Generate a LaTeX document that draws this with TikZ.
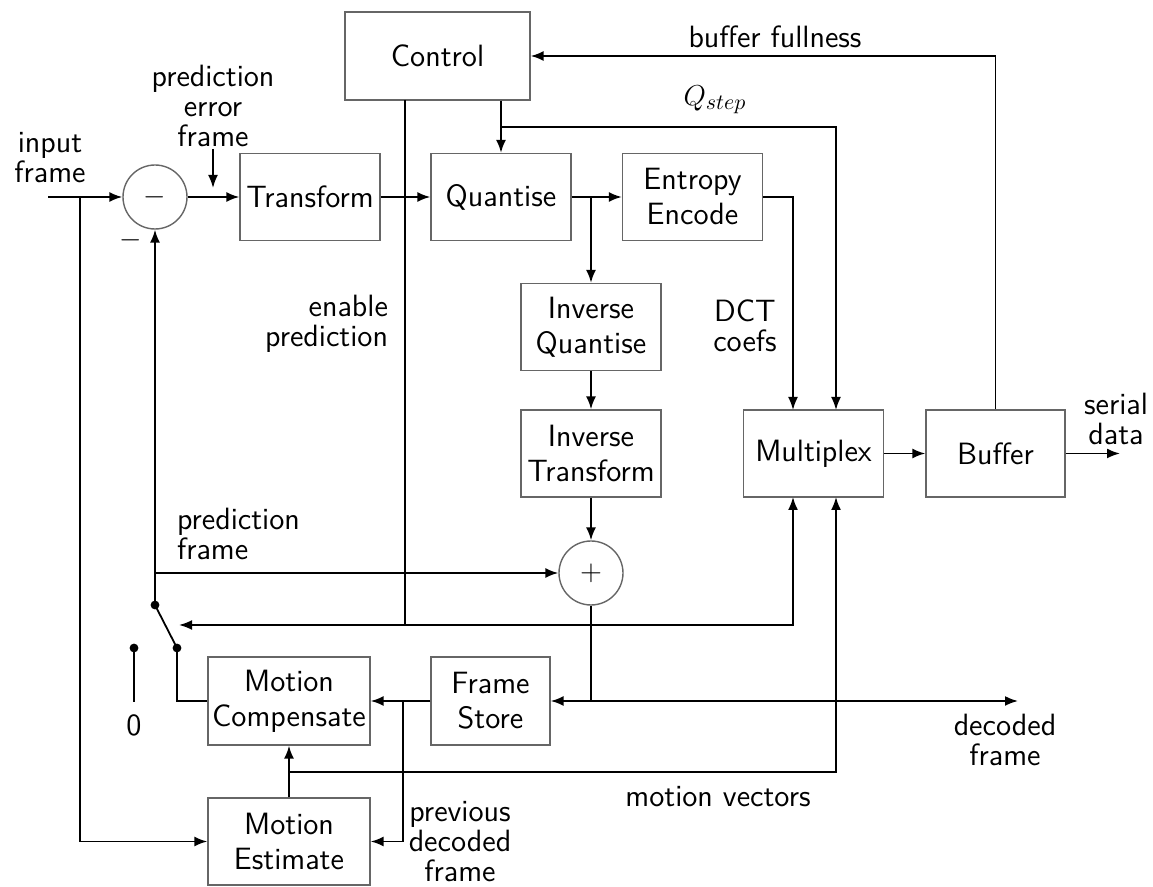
\documentclass[tikz,border=0pt]{standalone}
\usetikzlibrary{arrows.meta}
\begin{document}
\begin{tikzpicture}[x=0.5pt,y=-0.5pt,
  font=\sffamily\fontsize{15.4}{17.5}\selectfont,
  blk/.style={draw=black!60, line width=0.7pt, minimum width=70pt, minimum height=43.5pt, inner sep=0pt, align=center},
  sumnode/.style={circle, draw=black!60, line width=0.7pt, minimum size=32pt, inner sep=0pt},
  wire/.style={line width=0.9pt, draw=black},
  arr/.style={wire, -{Latex[length=6.5pt,width=5pt]}},
  lbl/.style={align=center, font=\sffamily\fontsize{15.4}{15}\selectfont},
  dot/.style={fill=black}]
\useasboundingbox (0,0) rectangle (1153,887);

% blocks
\node[blk, minimum width=92.5pt, minimum height=44pt] (ctrl) at (437.5,56) {Control};
\node[blk] (tr) at (310,197) {Transform};
\node[blk] (q) at (501,197) {Quantise};
\node[blk] (ee) at (692.5,197) {Entropy\\Encode};
\node[blk] (iq) at (591,327) {Inverse\\Quantise};
\node[blk] (it) at (591,453.5) {Inverse\\Transform};
\node[blk] (mux) at (813.5,453.5) {Multiplex};
\node[blk, minimum width=69.5pt] (buf) at (995.5,453.5) {Buffer};
\node[blk, minimum width=81pt, minimum height=44pt] (mc) at (289,701) {Motion\\Compensate};
\node[blk, minimum width=59.5pt, minimum height=44pt] (fs) at (490.5,701) {Frame\\Store};
\node[blk, minimum width=81pt] (me) at (289,841.5) {Motion\\Estimate};
\node[sumnode] (sub) at (155,197) {$-$};
\node[sumnode] (add) at (591,573) {$+$};

% coordinates
\coordinate (in) at (48,197);
\coordinate (j1) at (80,197);
\coordinate (pe0) at (213,149);
\coordinate (pe1) at (213,188);
\coordinate (qj) at (591,197);
\coordinate (qs) at (501,127);
\coordinate (muxA) at (793,410);
\coordinate (muxB) at (836,410);
\coordinate (muxC) at (793,497);
\coordinate (muxD) at (836,497);
\coordinate (en0) at (405,100);
\coordinate (en1) at (405,625);
\coordinate (swa) at (179,625);
\coordinate (swp) at (155,605);
\coordinate (swb) at (177,648);
\coordinate (sw0) at (134,648);
\coordinate (sw0b) at (134,702);
\coordinate (pf) at (155,573);
\coordinate (dj) at (591,701);
\coordinate (dec) at (1018,701);
\coordinate (pd) at (403,701);
\coordinate (mv) at (289,772);
\coordinate (ser) at (1120,453.5);

% connectors
\draw[arr] (in) -- (sub);
\draw[arr] (j1) |- (me.west);
\draw[arr] (sub) -- (tr);
\draw[arr] (pe0) -- (pe1);
\draw[arr] (tr) -- (q);
\draw[arr] (q) -- (ee);
\draw[arr] (qj) -- (iq);
\draw[arr] (iq) -- (it);
\draw[arr] (it) -- (add);
\draw[arr] (q.north |- ctrl.south) -- (q.north);
\draw[arr] (qs) -| (muxB);
\draw[arr] (ee.east) -| (muxA);
\draw[wire] (en0) -- (en1);
\draw[arr] (en1) -| (muxC);
\draw[arr] (en1) -- (swa);
\draw[wire] (swp) -- (swb);
\fill[dot] (swp) circle[radius=2.2pt];
\fill[dot] (swb) circle[radius=2.2pt];
\fill[dot] (sw0) circle[radius=2.2pt];
\draw[arr] (swp) -- (sub.south);
\draw[arr] (pf) -- (add);
\draw[wire] (sw0) -- (sw0b);
\draw[wire] (swb) |- (mc.west);
\draw[wire] (add) -- (dj);
\draw[arr] (dj) -- (fs.east);
\draw[arr] (dj) -- (dec);
\draw[arr] (fs) -- (mc);
\draw[arr] (pd) |- (me.east);
\draw[arr] (me) -- (mc);
\draw[arr] (mv) -| (muxD);
\draw[arr] (mux) -- (buf);
\draw[arr] (buf) -- (ser);
\draw[arr] (buf.north) |- (ctrl.east);

% labels
\node[lbl] (l1) at (50,158) {input\\frame};
\node[lbl] (l2) at (213,106) {prediction\\error\\frame};
\node[lbl] (l3) at (131,240) {$-$};
\node[lbl] (l4) at (775,37) {buffer fullness};
\node[lbl] (l5) at (715,100) {$Q_{step}$};
\node[lbl] (l6) at (745,326) {DCT\\coefs};
\node[lbl, align=right, anchor=east] (l7) at (395,324) {enable\\prediction};
\node[lbl, align=left, anchor=west] (l8) at (170,534) {prediction\\frame};
\node[lbl] (l9) at (1116,419) {serial\\data};
\node[lbl] (l10) at (1005,740) {decoded\\frame};
\node[lbl] (l11) at (718,797) {motion vectors};
\node[lbl] (l12) at (460,842) {previous\\decoded\\frame};
\node[lbl] (l13) at (134,725) {0};
\end{tikzpicture}
\end{document}
